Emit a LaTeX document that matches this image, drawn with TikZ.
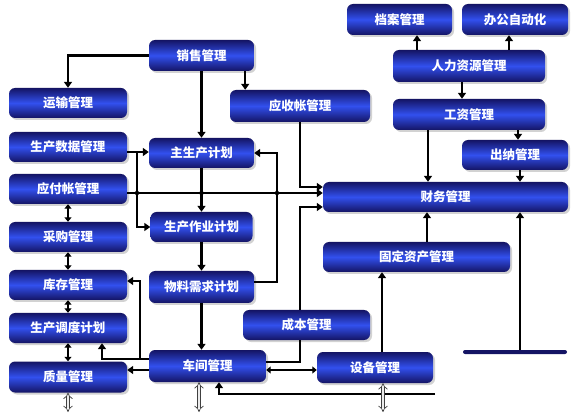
\documentclass[tikz,border=0pt]{standalone}
\usepackage{fontspec}
\newfontfamily\cjk{Noto Sans CJK SC}
\usetikzlibrary{arrows.meta,shadows}
\definecolor{boxedge}{RGB}{20,20,100}
\definecolor{boxmid}{RGB}{50,80,238}

\begin{document}
\begin{tikzpicture}[x=1pt, y=-1pt,
    box/.style={rounded corners=6pt, top color=boxedge, bottom color=boxedge, middle color=boxmid,
        drop shadow={shadow xshift=2pt, shadow yshift=-2pt, fill=black!35},
        text=white, font=\cjk\bfseries\fontsize{12.5}{14}\selectfont, inner sep=0pt, minimum height=30pt},
    stubbox/.style={rounded corners=2pt, fill=boxedge, inner sep=0pt, minimum height=4pt},
    flow/.style={line width=2.4pt, -{Triangle[length=6pt,width=8pt]}},
    link/.style={line width=2.4pt},
    both/.style={line width=2.4pt, {Triangle[length=4.5pt,width=7pt]}-{Triangle[length=4.5pt,width=7pt]}},
    io/.style={double=gray!15, double distance=2.6pt, line width=0.7pt, draw=gray!50!black, {Implies}-{Implies}},
    dot/.style={circle, fill=black, inner sep=0pt, minimum size=4.5pt}
]
    \useasboundingbox (0,0) rectangle (576,414);

    %--------------------%
    % Left Column
    %--------------------%
    \node[box, minimum width=118pt] (yunshu) at (68,103) {运输管理};
    \node[box, minimum width=118pt] (scsj) at (68,147) {生产数据管理};
    \node[box, minimum width=118pt] (yingfu) at (68,189) {应付帐管理};
    \node[box, minimum width=118pt] (caigou) at (68,237) {采购管理};
    \node[box, minimum width=118pt] (kucun) at (68,285) {库存管理};
    \node[box, minimum width=118pt] (diaodu) at (68,328) {生产调度计划};
    \node[box, minimum width=118pt, minimum height=31pt] (zhiliang) at (68,377) {质量管理};

    %--------------------%
    % Middle Column
    %--------------------%
    \node[box, minimum width=105pt, minimum height=31pt] (xiaoshou) at (201.5,55.5) {销售管理};
    \node[box, minimum width=105pt] (zhusc) at (201.5,153) {主生产计划};
    \node[box, minimum width=102pt] (zuoye) at (201.5,227) {生产作业计划};
    \node[box, minimum width=105pt, minimum height=32pt] (wuliao) at (201.5,287) {物料需求计划};
    \node[box, minimum width=117pt, minimum height=32pt] (chejian) at (207.5,366) {车间管理};
    \node[box, minimum width=140pt, minimum height=32pt] (yingshou) at (300,106) {应收帐管理};
    \node[box, minimum width=127pt] (chengben) at (306.5,325) {成本管理};
    \node[box, minimum width=116pt, minimum height=31pt] (shebei) at (375,367.5) {设备管理};

    %--------------------%
    % Right Column
    %--------------------%
    \node[box, minimum width=105pt, minimum height=31pt] (dangan) at (399.5,19.5) {档案管理};
    \node[box, minimum width=106pt, minimum height=31pt] (bangong) at (515,19.5) {办公自动化};
    \node[box, minimum width=152pt, minimum height=32pt] (renli) at (469,66) {人力资源管理};
    \node[box, minimum width=152pt, minimum height=31pt] (gongzi) at (469,114.5) {工资管理};
    \node[box, minimum width=106pt] (chuna) at (515,155) {出纳管理};
    \node[box, minimum width=245pt] (caiwu) at (445.5,197) {财务管理};
    \node[box, minimum width=187pt] (guding) at (416.5,257) {固定资产管理};
    \node[stubbox, minimum width=104pt] (stub) at (515,352) {};

    %--------------------%
    % Connections
    %--------------------%
    % Sales
    \draw[flow] (xiaoshou.west) -| (yunshu.north);
    \draw[flow] (xiaoshou.south) -- (zhusc.north);
    \draw[flow] ([xshift=-9pt]xiaoshou.south east) -- ([xshift=-9pt]xiaoshou.south east |- yingshou.north);
    \draw[flow] (yingshou.south) |- ([yshift=10pt]caiwu.west);

    % Production data and payables
    \draw[flow] ([yshift=-5pt]scsj.east) -- ([yshift=-5pt]scsj.east -| zhusc.west);
    \coordinate (j1) at (137,152);
    \draw[flow] (j1) |- (zuoye.west);
    \draw[flow] ([yshift=-4pt]yingfu.east) -- ([yshift=-4pt]yingfu.east -| caiwu.west);
    \node[dot] (c1) at (137,193) {};
    \node[dot] (c2) at (201.5,193) {};
    \node[dot] (c3) at (277,193) {};

    % Planning chain
    \draw[flow] (zhusc.south) -- (zuoye.north);
    \draw[flow] (zuoye.south) -- (wuliao.north);
    \draw[flow] (wuliao.south) -- (wuliao.south |- chejian.north);
    \draw[flow] ([yshift=5pt]wuliao.east) -- ++(23,0) |- (zhusc.east);

    % Workshop
    \draw[flow] ([yshift=7pt]chejian.west) -| ([xshift=34pt]diaodu.south);
    \coordinate (j3) at (140,359);
    \draw[flow] (j3) |- ([yshift=4pt]kucun.east);
    \draw[flow] ([yshift=-4pt]chejian.west) -- ([yshift=-4pt]chejian.west -| zhiliang.east);
    \draw[link] ([yshift=4pt]chejian.east) -| ([xshift=-6.5pt]chengben.south);
    \draw[flow] ([xshift=-6.5pt]chengben.north) |- ([yshift=-10pt]caiwu.west);
    \draw[both] ([yshift=-4pt]chejian.east) -- ([yshift=-4pt]chejian.east -| shebei.west);
    \coordinate (r1) at (435,394);
    \draw[flow] (r1) -| ([xshift=11.5pt]chejian.south);

    % Equipment and assets
    \draw[flow] ([xshift=7pt]shebei.north) -- ([xshift=7pt]shebei.north |- guding.south);
    \draw[flow] ([xshift=10.5pt]guding.north) -- ([xshift=10.5pt]guding.north |- caiwu.south);
    \draw[flow] ([xshift=5pt]stub.north) -- ([xshift=5pt]stub.north |- caiwu.south);

    % Human resources
    \draw[flow] ([xshift=-52pt]renli.north) -- ([xshift=-52pt]renli.north |- dangan.south);
    \draw[flow] ([xshift=40pt]renli.north) -- ([xshift=40pt]renli.north |- bangong.south);
    \draw[flow] ([xshift=-7pt]renli.south) -- ([xshift=-7pt]renli.south |- gongzi.north);
    \draw[flow] ([xshift=-41pt]gongzi.south) -- ([xshift=-41pt]gongzi.south |- caiwu.north);
    \draw[flow] ([xshift=49pt]gongzi.south) -- ([xshift=49pt]gongzi.south |- chuna.north);
    \draw[flow] ([xshift=5pt]chuna.south) -- ([xshift=5pt]chuna.south |- caiwu.north);

    % Left column links
    \draw[both] (yingfu.south) -- (caigou.north);
    \draw[both] (caigou.south) -- (kucun.north);
    \draw[both] (kucun.south) -- (diaodu.north);
    \draw[both] (diaodu.south) -- (zhiliang.north);

    % Outside links
    \coordinate (o1) at (68,412);
    \coordinate (o2) at (199,412);
    \coordinate (o3) at (383,412);
    \draw[io] (zhiliang.south) -- (o1);
    \draw[io] ([xshift=-8.5pt]chejian.south) -- (o2);
    \draw[io] ([xshift=8pt]shebei.south) -- (o3);
\end{tikzpicture}
\end{document}
